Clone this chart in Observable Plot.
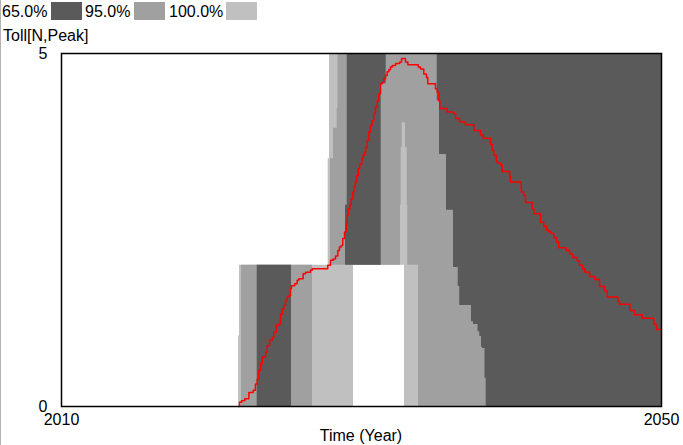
<!DOCTYPE html>
<html><head><meta charset="utf-8">
<script src="https://cdn.jsdelivr.net/npm/d3@7"></script>
<script src="https://cdn.jsdelivr.net/npm/@observablehq/plot@0.6"></script>
<style>
body{margin:0;background:#fff;font-family:"Liberation Sans",Arial,sans-serif;font-size:16px;color:#000;width:683px;height:445px;position:relative;overflow:hidden}
.abs{position:absolute;white-space:nowrap;line-height:24px}
.sw{position:absolute;width:31px;height:18px;top:2px}
#edge{position:absolute;left:0;top:0;width:1px;height:445px;background:#b4b4b4}
</style></head><body>
<div id="edge"></div>
<div id="legend"></div>
<div class="abs" id="ylab" style="left:3px;top:24px"></div>
<div id="chart" style="position:absolute;left:0;top:44px"></div>
<div class="abs" id="xlab" style="left:61px;width:600px;text-align:center;top:424px"></div>
<script>
// ---- legend / labels ----
const bandLabels = ["65.0%", "95.0%", "100.0%"];
const bandColors = ["#5a5a5a", "#a0a0a0", "#c0c0c0"];
const yTitle = "Toll[N,Peak]";
const xTitle = "Time (Year)";
const xTicks = [2010, 2050];
const yTicks = [0, 5];

// ---- 100% band (min..max) ----
const t100  = [2010, 2021.8, 2021.867, 2027.78, 2027.867, 2029.467, 2032.867, 2050];
const lo100 = [0,    0,      0,        0,       0,        2,        0,        0];
const hi100 = [0,    1.0,    2,        3.51,    5,        5,        5,        5];

// ---- 95% band ----
const t95  = [2010, 2022.0, 2026.733, 2027.933, 2028.133, 2028.38, 2028.433, 2032.6, 2032.647, 2032.713, 2032.933, 2033.047, 2033.087, 2033.8, 2050];
const lo95 = [0,    0,      2,        2,        2,        2,       2,        2.85,   3.67,     4.02,     3.67,     2.85,     2,        0,      0];
const hi95 = [0,    2,      2,        3.51,     3.94,     4.22,    5,        5,      5,        5,        5,        5,        5,        5,      5];

// ---- 65% band ----
const t65  = [2010, 2023.047, 2025.333, 2028.933, 2029.047, 2031.313, 2031.647, 2035.047, 2035.2, 2035.667, 2036.133, 2036.447, 2036.553, 2037.333, 2037.467, 2037.767, 2037.887, 2038.0, 2038.067, 2038.233, 2038.313, 2050];
const lo65 = [0,    0,        2,        2,        2,        4.57,     5,        4.33,     3.57,   2.78,     1.97,     1.70,     1.43,     1.20,     1.16,     1.06,     0.99,     0.84,   0.82,     0.40,     0,        0];
const hi65 = [0,    2,        2,        2.85,     5,        5,        5,        5,        5,      5,        5,        5,        5,        5,        5,        5,        5,        5,      5,        5,        5,        5];

// ---- red base run ----
const redT = [2021.82, 2021.87, 2022.00, 2022.22, 2022.49, 2022.78, 2022.93, 2023.05, 2023.15, 2023.27,
  2023.38, 2023.60, 2023.71, 2023.87, 2024.05, 2024.15, 2024.31, 2024.49, 2024.60, 2024.71,
  2024.82, 2024.93, 2025.05, 2025.15, 2025.27, 2025.33, 2025.55, 2025.71, 2025.82, 2026.11,
  2026.27, 2026.60, 2026.71, 2027.75, 2027.93, 2028.11, 2028.27, 2028.42, 2028.53, 2028.65,
  2028.75, 2028.87, 2028.98, 2029.05, 2029.11, 2029.22, 2029.31, 2029.42, 2029.49, 2029.58,
  2029.67, 2029.78, 2029.89, 2030.02, 2030.11, 2030.20, 2030.27, 2030.38, 2030.49, 2030.60,
  2030.71, 2030.82, 2030.93, 2031.05, 2031.15, 2031.27, 2031.38, 2031.49, 2031.60, 2031.71,
  2031.82, 2031.93, 2032.05, 2032.27, 2032.55, 2032.67, 2032.93, 2033.09, 2033.78, 2033.93,
  2034.15, 2034.33, 2034.42, 2034.93, 2035.05, 2035.15, 2035.22, 2035.71, 2036.15, 2036.27,
  2036.53, 2036.93, 2037.49, 2037.93, 2038.11, 2038.60, 2038.71, 2038.82, 2038.98, 2039.05,
  2039.27, 2039.38, 2039.87, 2039.93, 2040.65, 2040.82, 2040.93, 2041.38, 2041.49, 2041.93,
  2042.15, 2042.33, 2042.49, 2042.65, 2042.82, 2043.00, 2043.15, 2043.65, 2043.87, 2044.09,
  2044.38, 2044.53, 2044.75, 2044.89, 2045.20, 2045.55, 2045.87, 2046.20, 2046.38, 2047.09,
  2047.20, 2047.89, 2048.20, 2048.71, 2049.49, 2049.67, 2050];
const redV = [0, 0.06, 0.08, 0.11, 0.20, 0.23, 0.32, 0.39, 0.51, 0.61,
  0.70, 0.77, 0.86, 0.94, 0.98, 1.05, 1.15, 1.17, 1.31, 1.38,
  1.43, 1.50, 1.55, 1.57, 1.67, 1.71, 1.74, 1.79, 1.81, 1.88,
  1.90, 1.93, 1.95, 2.00, 2.07, 2.09, 2.13, 2.21, 2.26, 2.28,
  2.38, 2.47, 2.59, 2.71, 2.80, 2.85, 2.94, 3.04, 3.11, 3.18,
  3.27, 3.37, 3.44, 3.51, 3.56, 3.60, 3.67, 3.77, 3.89, 3.98,
  4.05, 4.15, 4.24, 4.33, 4.43, 4.57, 4.59, 4.64, 4.69, 4.74,
  4.77, 4.81, 4.83, 4.86, 4.88, 4.93, 4.88, 4.84, 4.81, 4.78,
  4.71, 4.66, 4.57, 4.50, 4.45, 4.33, 4.22, 4.17, 4.15, 4.08,
  4.03, 3.99, 3.91, 3.85, 3.80, 3.71, 3.63, 3.56, 3.48, 3.45,
  3.42, 3.33, 3.26, 3.18, 3.04, 2.99, 2.89, 2.80, 2.73, 2.61,
  2.55, 2.50, 2.47, 2.45, 2.39, 2.33, 2.25, 2.21, 2.16, 2.11,
  2.06, 2.00, 1.95, 1.90, 1.84, 1.80, 1.70, 1.64, 1.55, 1.49,
  1.45, 1.36, 1.30, 1.25, 1.16, 1.09, 1.09];

// ---- HTML legend & titles ----
const textLeft = [2, 85, 169];
const swLeft = [51, 134, 226];
const leg = document.getElementById("legend");
bandLabels.forEach((lab, i) => {
  const t = document.createElement("div");
  t.className = "abs"; t.style.left = textLeft[i] + "px"; t.style.top = "0px";
  t.textContent = lab; leg.appendChild(t);
  const s = document.createElement("div");
  s.className = "sw"; s.style.left = swLeft[i] + "px"; s.style.background = bandColors[i];
  leg.appendChild(s);
});
document.getElementById("ylab").textContent = yTitle;
document.getElementById("xlab").textContent = xTitle;

const band = (t, lo, hi) => t.map((d, i) => ({t: d, lo: lo[i], hi: hi[i]}));
const red = redT.map((d, i) => ({t: d, v: redV[i]}));

const chart = Plot.plot({
  width: 683,
  height: 384,
  marginLeft: 61,
  marginRight: 22,
  marginTop: 9,
  marginBottom: 22,
  style: {fontFamily: "'Liberation Sans', Arial, sans-serif", fontSize: "16px", background: "transparent", color: "black"},
  x: {domain: [2010, 2050]},
  y: {domain: [0, 5]},
  marks: [
    Plot.areaY(band(t100, lo100, hi100), {x: "t", y1: "lo", y2: "hi", curve: "step-after", fill: bandColors[2]}),
    Plot.areaY(band(t95, lo95, hi95), {x: "t", y1: "lo", y2: "hi", curve: "step-after", fill: bandColors[1]}),
    Plot.areaY(band(t65, lo65, hi65), {x: "t", y1: "lo", y2: "hi", curve: "step-after", fill: bandColors[0]}),
    Plot.line(red, {x: "t", y: "v", curve: "step-after", stroke: "#ff0000", strokeWidth: 1.5}),
    Plot.frame({stroke: "black", strokeWidth: 1.5}),
    Plot.axisX({ticks: xTicks, tickFormat: d => String(d), tickSize: 0, tickPadding: 7, label: null, fontSize: 16}),
    Plot.axisY({ticks: yTicks, tickFormat: d => String(d), tickSize: 0, tickPadding: 14, label: null, fontSize: 16})
  ]
});
document.getElementById("chart").appendChild(chart);
</script>
</body></html>
